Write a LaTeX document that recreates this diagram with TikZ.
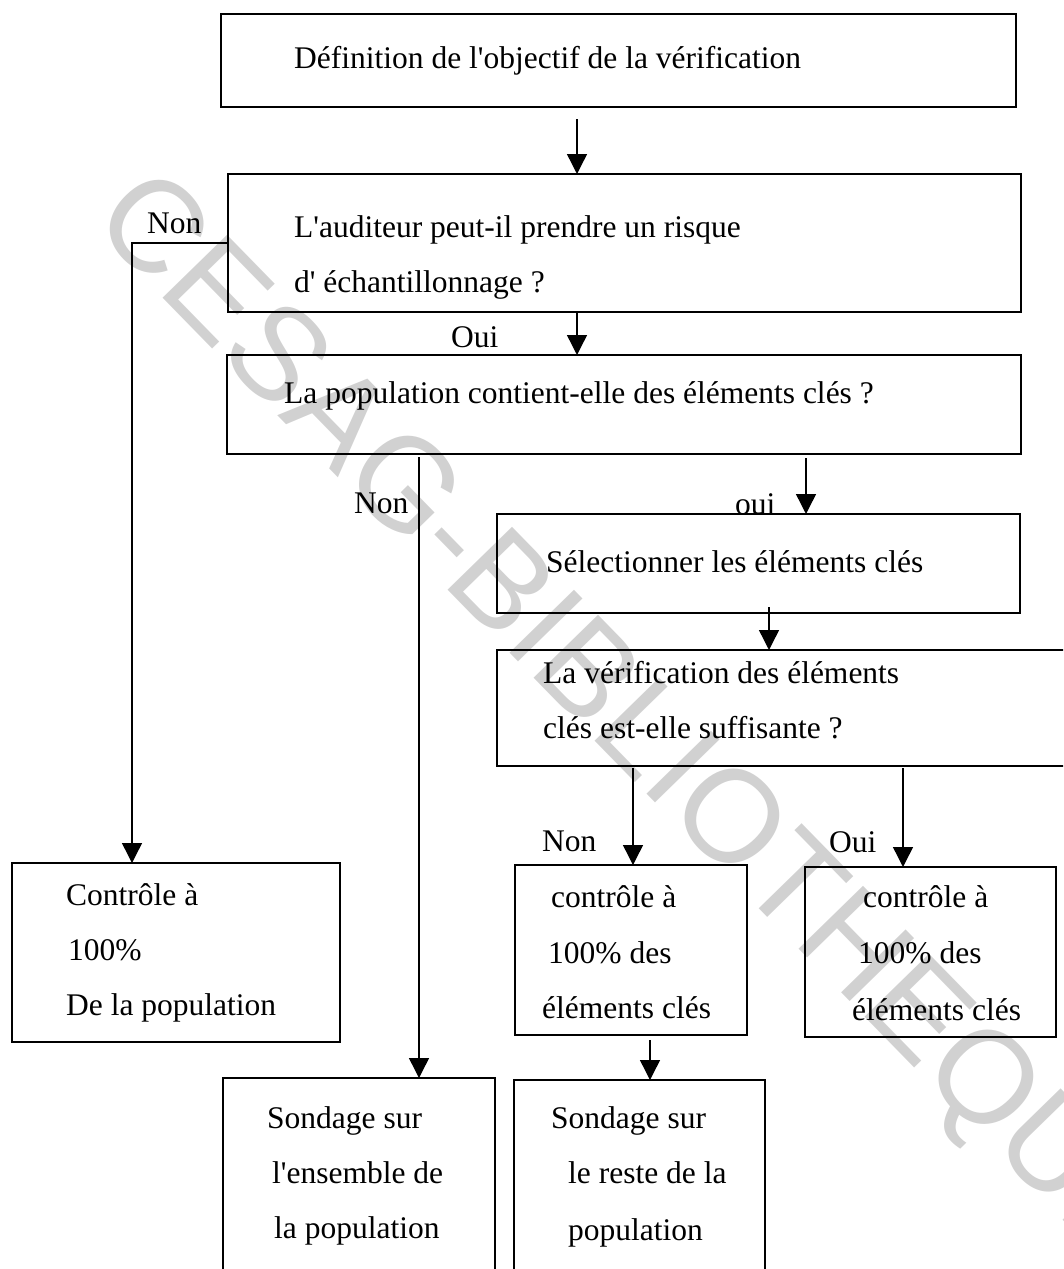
\documentclass[tikz,border=0pt]{standalone}
\usepackage{fontspec}
\setmainfont{Liberation Serif}[Ligatures=TeXOff]
\newfontfamily\wmfont{Liberation Sans}
\usetikzlibrary{arrows.meta,calc}
\begin{document}
\begin{tikzpicture}[x=1pt,y=-1pt,
  box/.style={draw, line width=1.8pt, inner sep=0pt, outer sep=0pt, anchor=north west},
  txt/.style={anchor=base west, inner sep=0pt, font=\fontsize{31.5}{36}\selectfont},
  arr/.style={line width=1.4pt, -{Triangle[length=20pt,width=20pt]}},
  wm/.style={anchor=base, inner sep=0pt, text=black!18, font=\wmfont\fontsize{131}{140}\selectfont}]
\useasboundingbox (0,0) rectangle (1063,1269);
\clip (0,0) rectangle (1063,1269);
% watermark
\node[wm, rotate=-45.7] (wmark) at (603,749) {CESAG-BIBLIOTHEQUE};
% boxes
\node[box, minimum width=795pt, minimum height=93pt]  (b1)  at (221,14)  {};
\node[box, minimum width=793pt, minimum height=138pt] (b2)  at (228,174) {};
\node[box, minimum width=794pt, minimum height=99pt]  (b3)  at (227,355) {};
\node[box, minimum width=523pt, minimum height=99pt]  (b4)  at (497,514) {};
\node[box, minimum width=593pt, minimum height=116pt] (b5)  at (497,650) {};
\node[box, minimum width=328pt, minimum height=179pt] (b6)  at (12,863)  {};
\node[box, minimum width=232pt, minimum height=170pt] (b7)  at (515,865) {};
\node[box, minimum width=251pt, minimum height=170pt] (b8)  at (805,867) {};
\node[box, minimum width=272pt, minimum height=222pt] (b9)  at (223,1078) {};
\node[box, minimum width=251pt, minimum height=220pt] (b10) at (514,1080) {};
% texts
\node[txt] (t1)  at (294,68)  {Définition de l'objectif de la vérification};
\node[txt] (t2a) at (294,237) {L'auditeur peut-il prendre un risque};
\node[txt] (t2b) at (294,292) {d' échantillonnage ?};
\node[txt] (t3)  at (284,403) {La population contient-elle des éléments clés ?};
\node[txt] (t4)  at (546,572) {Sélectionner les éléments clés};
\node[txt] (t5a) at (543,683) {La vérification des éléments};
\node[txt] (t5b) at (543,738) {clés est-elle suffisante ?};
\node[txt] (t6a) at (66,905)  {Contrôle à};
\node[txt] (t6b) at (68,960)  {100\%};
\node[txt] (t6c) at (66,1015) {De la population};
\node[txt] (t7a) at (551,907) {contrôle à};
\node[txt] (t7b) at (548,963) {100\% des};
\node[txt] (t7c) at (542,1018) {éléments clés};
\node[txt] (t8a) at (863,907) {contrôle à};
\node[txt] (t8b) at (858,963) {100\% des};
\node[txt] (t8c) at (852,1020) {éléments clés};
\node[txt] (t9a) at (267,1128) {Sondage sur};
\node[txt] (t9b) at (272,1183) {l'ensemble de};
\node[txt] (t9c) at (274,1238) {la population};
\node[txt] (t10a) at (551,1128) {Sondage sur};
\node[txt] (t10b) at (568,1183) {le reste de la};
\node[txt] (t10c) at (568,1240) {population};
% labels
\node[txt] (lNon1) at (147,233) {Non};
\node[txt] (lOui1) at (451,347) {Oui};
\node[txt] (lNon2) at (354,513) {Non};
\node[txt] (loui2) at (735,514) {oui};
\node[txt] (lNon3) at (542,851) {Non};
\node[txt] (lOui3) at (829,852) {Oui};
% connector coordinates
\coordinate (x1) at (577,0);
\coordinate (x3) at (806,0);
\coordinate (x4) at (769,0);
\coordinate (x5) at (633,0);
\coordinate (x6) at (903,0);
\coordinate (x7) at (650,0);
\coordinate (x8) at (419,0);
\coordinate (nl) at (132,243);
% connectors
\draw[arr] ($(x1 |- b1.south)+(0,12)$) -- (x1 |- b2.north);
\draw[arr] (x1 |- b2.south) -- (x1 |- b3.north);
\draw[arr] ($(x3 |- b3.south)+(0,4)$) -- (x3 |- b4.north);
\draw[arr] ($(x4 |- b4.south)+(0,-6)$) -- (x4 |- b5.north);
\draw[arr] ($(x5 |- b5.south)+(0,2)$) -- (x5 |- b7.north);
\draw[arr] ($(x6 |- b5.south)+(0,2)$) -- (x6 |- b8.north);
\draw[arr] ($(x7 |- b7.south)+(0,5)$) -- (x7 |- b10.north);
\draw[arr] (nl -| b2.west) -- (nl) -- (nl |- b6.north);
\draw[arr] ($(x8 |- b3.south)+(0,3)$) -- (x8 |- b9.north);
\end{tikzpicture}
\end{document}
